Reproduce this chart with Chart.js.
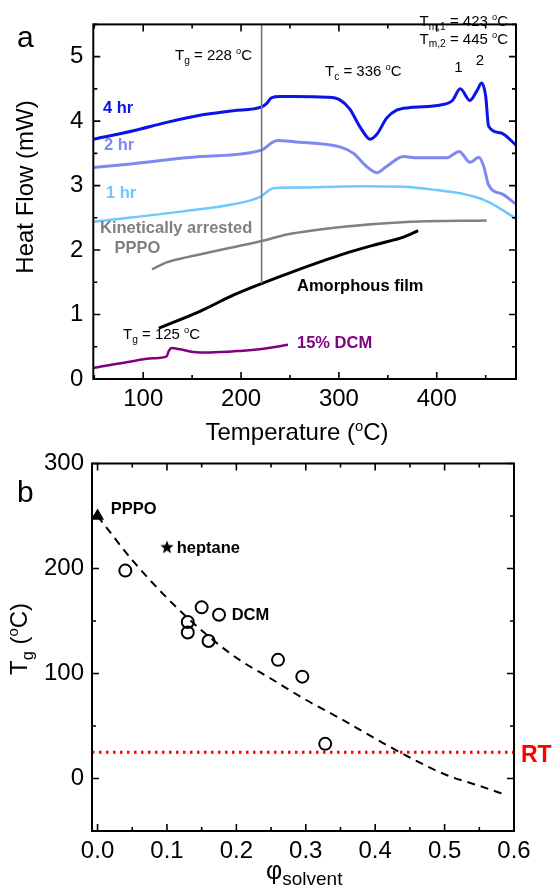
<!DOCTYPE html>
<html>
<head>
<meta charset="utf-8">
<script src="https://cdn.jsdelivr.net/npm/chart.js@4.4.1/dist/chart.umd.min.js"></script>
<style>
  html, body { margin: 0; padding: 0; background: #fff; }
  #wrap { position: relative; width: 555px; height: 895px; }
  canvas { position: absolute; left: 0; top: 0; }
</style>
</head>
<body>
<div id="wrap">
  <canvas id="dsc" width="555" height="895"></canvas>
  <canvas id="tg" width="555" height="895"></canvas>
</div>
<script>
/* ---------- panel a : DSC traces (Temperature °C vs heat flow mW) ---------- */
const hr4Temp = [49, 90, 124, 158, 192, 221, 226, 231, 240, 253, 288, 301, 311, 322, 332, 339, 349, 359, 373, 404, 416, 424, 434, 441, 446, 450, 453, 465, 481];
const hr4Flow = [3.72, 3.85, 3.98, 4.09, 4.16, 4.22, 4.27, 4.36, 4.38, 4.38, 4.37, 4.33, 4.19, 3.90, 3.72, 3.80, 4.05, 4.17, 4.21, 4.25, 4.32, 4.50, 4.32, 4.47, 4.59, 4.39, 3.92, 3.82, 3.63];

const hr2Temp = [49, 90, 158, 221, 230, 237, 254, 301, 315, 328, 339, 349, 366, 380, 410, 423, 434, 443, 448, 453, 468, 481];
const hr2Flow = [3.28, 3.34, 3.45, 3.55, 3.65, 3.70, 3.68, 3.60, 3.50, 3.30, 3.20, 3.30, 3.45, 3.43, 3.43, 3.53, 3.36, 3.44, 3.30, 3.01, 2.86, 2.71];

const hr1Temp = [49, 90, 141, 192, 219, 233, 254, 322, 366, 400, 424, 451, 481];
const hr1Flow = [2.44, 2.51, 2.60, 2.71, 2.82, 2.96, 2.97, 2.99, 2.98, 2.93, 2.88, 2.76, 2.49];

const arrestedTemp = [109, 124, 145, 175, 221, 247, 305, 373, 451];
const arrestedFlow = [1.70, 1.81, 1.89, 1.99, 2.14, 2.24, 2.36, 2.44, 2.46];

const amorphTemp = [116, 158, 192, 221, 254, 305, 339, 366, 381];
const amorphFlow = [0.79, 1.05, 1.30, 1.48, 1.67, 1.94, 2.09, 2.20, 2.30];

const dcmTemp = [49, 83, 110, 124, 126, 129, 138, 151, 168, 202, 223, 248];
const dcmFlow = [0.17, 0.26, 0.32, 0.35, 0.43, 0.48, 0.46, 0.42, 0.41, 0.44, 0.47, 0.53];

// trait vertical du Tg (228 °C)
const tgMarkTemp = [221, 221];
const tgMarkFlow = [1.48, 5.5];

const tempTickLabels = [100, 200, 300, 400];
const flowTickLabels = [0, 1, 2, 3, 4, 5];

/* ---------- panel b : Tg vs solvent fraction ---------- */
const phiSolvent = [0.04, 0.13, 0.13, 0.15, 0.16, 0.175, 0.26, 0.295, 0.328];
const tgSolvent  = [198, 149, 139, 163, 131, 156, 113, 97, 33];
const phiPPPO = [0];
const tgPPPO  = [250];
const phiHeptane = [0.10];
const tgHeptane  = [220];
const phiFit = [0, 0.05, 0.10, 0.15, 0.20, 0.25, 0.30, 0.35, 0.40, 0.45, 0.50, 0.55, 0.59];
const tgFit  = [250, 208, 172, 141, 115, 95, 75, 57, 38, 20, 4, -7, -16];
const roomTemp = 25;

const phiTickLabels = [0, 0.1, 0.2, 0.3, 0.4, 0.5, 0.6];
const tgTickLabels  = [0, 100, 200, 300];

/* ---------- helpers ---------- */
const FONT = '"Liberation Sans", Arial, Helvetica, sans-serif';
Chart.defaults.font.family = FONT;
Chart.defaults.color = '#000';

const pts = (xs, ys) => xs.map((x, i) => ({ x, y: ys[i] }));

function trace(xs, ys, color, width) {
  return {
    data: pts(xs, ys), showLine: true, borderColor: color, borderWidth: width,
    pointRadius: 0, cubicInterpolationMode: 'monotone', fill: false,
  };
}

// Axe linéaire : graduations majeures (labels) + mineures (demi-pas)
function axis(min, max, step, labels, fmt, fit, pad) {
  const isLabel = v => labels.some(l => Math.abs(l - v) < 1e-6);
  return {
    type: 'linear', min, max,
    grid:   { display: false, drawTicks: false },
    border: { display: false },
    ticks: {
      autoSkip: false, maxRotation: 0, minRotation: 0, padding: pad,
      font: { size: 24 }, color: '#000',
      callback: v => isLabel(v) ? fmt(v) : '',
    },
    afterBuildTicks: s => {
      const vals = [];
      for (let i = Math.ceil(min / step - 1e-9); i * step <= max + 1e-9; i++) {
        vals.push(+(i * step).toFixed(6));
      }
      s.ticks = vals.map(v => ({ value: v, major: isLabel(v) }));
    },
    afterFit: fit,
  };
}

// Cadre + graduations intérieures sur les 4 côtés
const frameTicks = {
  id: 'frameTicks',
  afterDatasetsDraw(chart) {
    const { ctx, chartArea: a, scales: { x, y } } = chart;
    ctx.save();
    ctx.strokeStyle = '#000';
    ctx.lineWidth = 1.6;
    x.ticks.forEach(t => {
      const p = x.getPixelForValue(t.value), l = t.major ? 7 : 4;
      ctx.beginPath();
      ctx.moveTo(p, a.bottom); ctx.lineTo(p, a.bottom - l);
      ctx.moveTo(p, a.top);    ctx.lineTo(p, a.top + l);
      ctx.stroke();
    });
    y.ticks.forEach(t => {
      const p = y.getPixelForValue(t.value), l = t.major ? 7 : 4;
      ctx.beginPath();
      ctx.moveTo(a.left, p);  ctx.lineTo(a.left + l, p);
      ctx.moveTo(a.right, p); ctx.lineTo(a.right - l, p);
      ctx.stroke();
    });
    ctx.lineWidth = 2;
    ctx.strokeRect(a.left, a.top, a.right - a.left, a.bottom - a.top);
    ctx.restore();
  },
};

// Texte avec indices _{..} et exposants ^{..}
function drawRich(ctx, str, x, y, o) {
  const size = o.size, w = o.weight || 'normal';
  const subK = o.subScale || 0.68;
  const parts = str.split(/(_\{[^}]*\}|\^\{[^}]*\})/).filter(Boolean).map(p => {
    if (p[0] === '_') return { t: p.slice(2, -1), s: size * subK, dy: size * 0.24 };
    if (p[0] === '^') return { t: p.slice(2, -1), s: size * 0.62, dy: -size * 0.38 };
    return { t: p, s: size, dy: 0 };
  });
  ctx.save();
  ctx.translate(x, y);
  if (o.rotate) ctx.rotate(o.rotate);
  ctx.fillStyle = o.color || '#000';
  ctx.textBaseline = 'alphabetic';
  ctx.textAlign = 'left';
  let total = 0;
  parts.forEach(p => {
    ctx.font = `${w} ${p.s}px ${FONT}`;
    p.w = ctx.measureText(p.t).width;
    total += p.w;
  });
  let cx = o.align === 'center' ? -total / 2 : o.align === 'right' ? -total : 0;
  parts.forEach(p => {
    ctx.font = `${w} ${p.s}px ${FONT}`;
    ctx.fillText(p.t, cx, p.dy);
    cx += p.w;
  });
  ctx.restore();
}

function textPlugin(items) {
  return {
    id: 'texts',
    afterDraw(chart) {
      items.forEach(it => drawRich(chart.ctx, it.text, it.x, it.y, it));
    },
  };
}

const UP = -Math.PI / 2;
const C4 = '#0a14e6', C2 = '#7f87f2', C1 = '#6ec8ff', GRAY = '#808080', PURPLE = '#800080';

/* ---------- chart a ---------- */
const textsA = [
  { text: 'a', x: 17, y: 47, size: 30 },
  { text: 'Heat Flow (mW)', x: 33, y: 187, size: 24, align: 'center', rotate: UP },
  { text: 'Temperature (^{o}C)', x: 297, y: 440, size: 24, align: 'center' },
  { text: 'T_{g} = 228 ^{o}C', x: 175, y: 60, size: 15 },
  { text: 'T_{c} = 336 ^{o}C', x: 325, y: 76, size: 15 },
  { text: 'T_{m,1} = 423 ^{o}C', x: 508, y: 26, size: 15, align: 'right' },
  { text: 'T_{m,2} = 445 ^{o}C', x: 508, y: 43.5, size: 15, align: 'right' },
  { text: '1', x: 458.5, y: 71.5, size: 15, align: 'center' },
  { text: '2', x: 480, y: 65, size: 15, align: 'center' },
  { text: '4 hr', x: 103, y: 113, size: 16.5, weight: 'bold', color: C4 },
  { text: '2 hr', x: 104, y: 150, size: 16.5, weight: 'bold', color: C2 },
  { text: '1 hr', x: 106, y: 198, size: 16.5, weight: 'bold', color: C1 },
  { text: 'Kinetically arrested', x: 100, y: 233, size: 16.5, weight: 'bold', color: GRAY },
  { text: 'PPPO', x: 137.5, y: 252.5, size: 16.5, weight: 'bold', color: GRAY, align: 'center' },
  { text: 'Amorphous film', x: 297, y: 291, size: 16.5, weight: 'bold' },
  { text: 'T_{g} = 125 ^{o}C', x: 123, y: 339, size: 15 },
  { text: '15% DCM', x: 297, y: 347.5, size: 16.5, weight: 'bold', color: PURPLE },
];

new Chart(document.getElementById('dsc'), {
  type: 'scatter',
  data: {
    datasets: [
      { ...trace(tgMarkTemp, tgMarkFlow, '#777', 1.6), cubicInterpolationMode: 'default', tension: 0 },
      trace(dcmTemp, dcmFlow, PURPLE, 2.5),
      trace(amorphTemp, amorphFlow, '#000', 3),
      trace(arrestedTemp, arrestedFlow, GRAY, 2.5),
      trace(hr1Temp, hr1Flow, C1, 2.5),
      trace(hr2Temp, hr2Flow, C2, 3),
      trace(hr4Temp, hr4Flow, C4, 3),
    ],
  },
  options: {
    responsive: false, animation: false, devicePixelRatio: 1,
    layout: { autoPadding: false, padding: { top: 9.3, left: 0, right: 39, bottom: 0 } },
    plugins: { legend: { display: false }, tooltip: { enabled: false } },
    scales: {
      x: axis(49, 481, 50, tempTickLabels, v => String(v), s => { s.height = 516; }, 6),
      y: axis(0, 5.5, 0.5, flowTickLabels, v => String(v), s => { s.width = 93.3; }, 10),
    },
  },
  plugins: [frameTicks, textPlugin(textsA)],
});

/* ---------- chart b ---------- */
function starCanvas(r) {
  const s = Math.ceil(r * 2) + 2;
  const c = document.createElement('canvas');
  c.width = c.height = s;
  const g = c.getContext('2d');
  g.beginPath();
  for (let i = 0; i < 10; i++) {
    const ang = -Math.PI / 2 + i * Math.PI / 5;
    const rr = i % 2 ? r * 0.42 : r;
    g.lineTo(s / 2 + rr * Math.cos(ang), s / 2 + rr * Math.sin(ang));
  }
  g.closePath();
  g.fillStyle = '#000';
  g.fill();
  return c;
}

const textsB = [
  { text: 'b', x: 17, y: 501.7, size: 30 },
  { text: 'T_{g} (^{o}C)', x: 27, y: 639, size: 24, align: 'center', rotate: UP },
  { text: 'φ_{solvent}', x: 266, y: 879, size: 25, subScale: 0.76 },
  { text: 'PPPO', x: 110.7, y: 514, size: 16.5, weight: 'bold' },
  { text: 'heptane', x: 176.7, y: 552.5, size: 16.5, weight: 'bold' },
  { text: 'DCM', x: 231.7, y: 620, size: 16.5, weight: 'bold' },
  { text: 'RT', x: 521, y: 762, size: 23, weight: 'bold', color: '#ff0000' },
];

new Chart(document.getElementById('tg'), {
  type: 'scatter',
  data: {
    datasets: [
      {
        data: pts([-0.008, 0.6], [roomTemp, roomTemp]), showLine: true,
        borderColor: '#ff0000', borderWidth: 3, borderDash: [2.5, 4.5], pointRadius: 0,
      },
      {
        data: pts(phiFit, tgFit), showLine: true, borderColor: '#000', borderWidth: 2,
        borderDash: [8, 6], pointRadius: 0, cubicInterpolationMode: 'monotone',
      },
      {
        data: pts(phiSolvent, tgSolvent), pointStyle: 'circle', pointRadius: 6,
        borderColor: '#000', borderWidth: 2, backgroundColor: 'rgba(0,0,0,0)',
      },
      {
        data: pts(phiPPPO, tgPPPO), pointStyle: 'triangle', pointRadius: 7.5,
        borderWidth: 0, backgroundColor: '#000',
      },
      {
        data: pts(phiHeptane, tgHeptane), pointStyle: starCanvas(7), pointRadius: 7,
      },
    ],
  },
  options: {
    responsive: false, animation: false, devicePixelRatio: 1,
    layout: { autoPadding: false, padding: { top: 463.5, left: 0, right: 41, bottom: 0 } },
    plugins: { legend: { display: false }, tooltip: { enabled: false } },
    scales: {
      x: axis(-0.008, 0.6, 0.05, phiTickLabels, v => v.toFixed(1), s => { s.height = 64; }, 6),
      y: axis(-50, 300, 50, tgTickLabels, v => String(v), s => { s.width = 92; }, 8),
    },
  },
  plugins: [frameTicks, textPlugin(textsB)],
});
</script>
</body>
</html>
